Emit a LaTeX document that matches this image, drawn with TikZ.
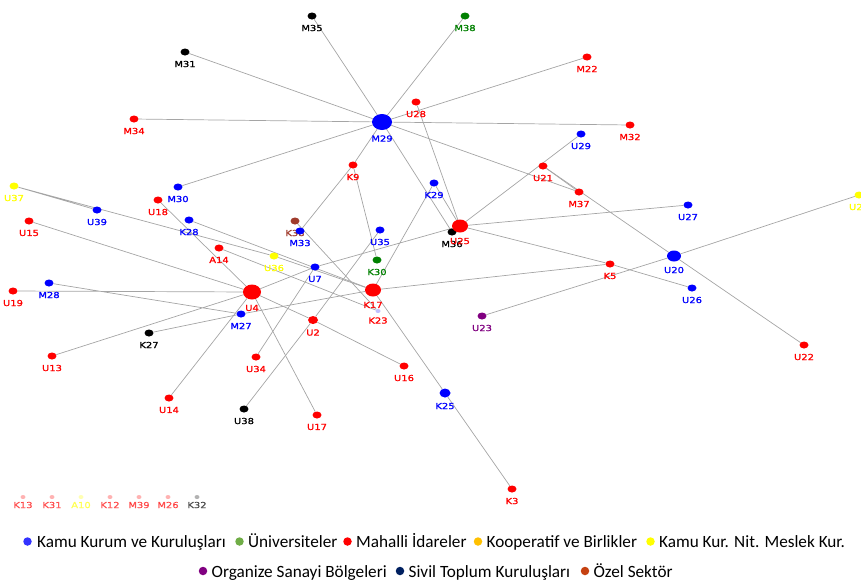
\documentclass[tikz,border=0pt]{standalone}
\usepackage{fontspec}
\setmainfont{Carlito}
\newfontfamily\lblfamily[FakeStretch=1.2,FakeBold=1.2]{DejaVu Sans}
\newcommand{\lblfont}{\lblfamily\fontsize{8.3}{9}\selectfont}
\usetikzlibrary{shapes.geometric,positioning}
\definecolor{nred}{RGB}{255,0,0}
\definecolor{nblue}{RGB}{0,0,255}
\definecolor{ngreen}{RGB}{0,128,0}
\definecolor{nyellow}{RGB}{255,255,0}
\definecolor{nbrown}{RGB}{160,60,45}
\definecolor{npurple}{RGB}{128,0,128}
\definecolor{edgegray}{RGB}{165,165,165}
\definecolor{lgblue}{RGB}{51,51,255}
\definecolor{lggreen}{RGB}{112,173,71}
\definecolor{lgorange}{RGB}{255,192,0}
\definecolor{lgnavy}{RGB}{0,32,96}
\definecolor{lgrust}{RGB}{197,65,17}
\pgfdeclarelayer{bg}
\pgfsetlayers{bg,main}

\begin{document}
\begin{tikzpicture}[x=1pt,y=-1pt,
    every label/.style={font=\lblfont,inner sep=0pt},
    label distance=5pt,
    dot/.style={ellipse,minimum width=9pt,minimum height=7pt,inner sep=0pt},
    rnode/.style={dot,fill=nred,label={[text=nred]below:#1}},
    bnode/.style={dot,fill=nblue,label={[text=nblue]below:#1}},
    gnode/.style={dot,fill=ngreen,label={[text=ngreen]below:#1}},
    ynode/.style={dot,fill=nyellow,label={[text=nyellow]below:#1}},
    knode/.style={dot,fill=black,label={[text=black]below:#1}},
    fnode/.style 2 args={dot,minimum width=5pt,minimum height=4pt,fill=#2,opacity=.3,
      label={[text=#2,text opacity=.6,label distance=2.5pt]below:#1}},
    link/.style={draw=edgegray,line width=0.7pt},
    lgdot/.style={circle,minimum size=8.5pt,inner sep=0pt},
    lgtext/.style={font=\fontsize{17.2}{19}\selectfont,inner sep=0pt,anchor=west,
      text height=12pt,text depth=0pt}]
  \useasboundingbox (0,0) rectangle (861,584);

  % nodes
  \node[knode=M35] (m35) at (312,16) {};
  \node[gnode=M38] (m38) at (465,16) {};
  \node[knode=M31] (m31) at (185,52) {};
  \node[rnode=M22] (m22) at (587,57) {};
  \node[rnode=M34] (m34) at (134,119) {};
  \node[rnode=U28] (u28) at (416,102) {};
  \node[bnode=M29,minimum width=20pt,minimum height=16pt] (m29) at (382,122) {};
  \node[rnode=M32] (m32) at (630,125) {};
  \node[bnode=U29] (u29) at (581,134) {};
  \node[rnode=K9] (k9) at (353,165) {};
  \node[rnode=U21] (u21) at (543,166) {};
  \node[rnode=M37] (m37) at (579,192) {};
  \node[ynode=U37] (u37) at (14,186) {};
  \node[bnode=M30] (m30) at (178,187) {};
  \node[bnode=K29] (k29) at (434,183) {};
  \node[ynode=U24] (u24) at (859,195) {};
  \node[rnode=U18] (u18) at (158,200) {};
  \node[bnode=U39] (u39) at (97,210) {};
  \node[bnode=U27] (u27) at (688,205) {};
  \node[rnode=U15] (u15) at (29,221) {};
  \node[bnode=K28] (k28) at (189,220) {};
  \node[dot,fill=nbrown,label={[text=nbrown]below:K38}] (k38) at (295,221) {};
  \node[bnode=M33] (m33) at (300,231) {};
  \node[knode=M36,label distance=3pt] (m36) at (452,232) {};
  \node[rnode=U25,minimum width=16pt,minimum height=13pt] (u25) at (460,226) {};
  \node[bnode=U35] (u35) at (380,230) {};
  \node[rnode=A14] (a14) at (219,248) {};
  \node[ynode=U36] (u36) at (274,256) {};
  \node[gnode=K30] (k30) at (377,260) {};
  \node[bnode=U20,minimum width=14pt,minimum height=11pt] (u20) at (674,256) {};
  \node[bnode=U7] (u7) at (315,267) {};
  \node[rnode=K5] (k5) at (610,264) {};
  \node[bnode=M28] (m28) at (49,283) {};
  \node[bnode=U26] (u26) at (692,288) {};
  \node[rnode=U19] (u19) at (13,291) {};
  \node[rnode=U4,minimum width=18pt,minimum height=15pt] (u4) at (252,292) {};
  \node[dot,fill=blue!25,minimum width=5pt,minimum height=4pt,label={[text=nred,label distance=4pt]below:K23}] (k23) at (378,311) {};
  \node[rnode=K17,minimum width=16pt,minimum height=13pt] (k17) at (373,290) {};
  \node[bnode=M27] (m27) at (241,314) {};
  \node[rnode=U2,minimum width=10pt,minimum height=8pt] (u2) at (313,320) {};
  \node[dot,fill=npurple,label={[text=npurple]below:U23}] (u23) at (482,316) {};
  \node[knode=K27] (k27) at (149,333) {};
  \node[rnode=U22] (u22) at (804,345) {};
  \node[rnode=U13] (u13) at (52,356) {};
  \node[rnode=U34] (u34) at (256,357) {};
  \node[rnode=U16] (u16) at (404,366) {};
  \node[bnode=K25,minimum width=11pt,minimum height=9pt] (k25) at (445,393) {};
  \node[rnode=U14] (u14) at (169,398) {};
  \node[knode=U38] (u38) at (244,409) {};
  \node[rnode=U17] (u17) at (317,415) {};
  \node[rnode=K3] (k3) at (512,489) {};

  % isolated
  \node[fnode={K13}{nred}] (k13) at (23,497) {};
  \node[fnode={K31}{nred}] (k31) at (52,497) {};
  \node[fnode={A10}{nyellow}] (a10) at (81,497) {};
  \node[fnode={K12}{nred}] (k12) at (110,497) {};
  \node[fnode={M39}{nred}] (m39) at (139,497) {};
  \node[fnode={M26}{nred}] (m26) at (168,497) {};
  \node[fnode={K32}{black}] (k32) at (197,497) {};

  % links
  \begin{pgfonlayer}{bg}
    \path[link] (m29) -- (m35) (m29) -- (m38) (m29) -- (m31) (m29) -- (m22);
    \path[link] (m29) -- (m34) (m29) -- (m32) (m29) -- (m30) (m29) -- (m37);
    \path[link] (m29.center) -- (m36.center) (m29) -- (k9) (k9) -- (m33) (k9) -- (k30);
    \path[link] (u28) -- (u25.center) (u29) -- (u25) (u21) -- (m37);
    \path[link] (u21) -- (u20) (u20) -- (u22) (u25) -- (u27);
    \path[link] (u25) -- (k5) (k5) -- (u26) (k17) -- (k5);
    \path[link] (u23) -- (u20) (u20) -- (u24);
    \path[link] (k29) -- (k17) (k29) -- (u25) (u25) -- (u7) (u7) -- (u4);
    \path[link] (u37) -- (u39) (u37) -- (u36) (u36) -- (k17);
    \path[link] (u15) -- (u4) (u18) -- (u4) (k28) -- (k17);
    \path[link] (a14) -- (k23) (k38.center) -- (k23);
    \path[link] (u19) -- (u4) (m28) -- (m27) (u13) -- (u4);
    \path[link] (k27) -- (m27) (m27) -- (k17);
    \path[link] (u4) -- (u2) (u2) -- (u16) (u4) -- (u17) (u14) -- (u4);
    \path[link] (u34) -- (u7) (u38) -- (u2) (u2) -- (u35);
    \path[link] (k17) -- (k25) (k25) -- (k3);
  \end{pgfonlayer}

  % legend
  \node[lgdot,fill=lgblue] (lg1) at (27.5,541.5) {};
  \node[lgtext,right=5pt of lg1] (lgt1) {Kamu Kurum ve Kuruluşları};
  \node[lgdot,fill=lggreen] (lg2) at (239.5,541.5) {};
  \node[lgtext,right=4pt of lg2] (lgt2) {Üniversiteler};
  \node[lgdot,fill=nred] (lg3) at (347.5,541.5) {};
  \node[lgtext,right=4pt of lg3] (lgt3) {Mahalli İdareler};
  \node[lgdot,fill=lgorange] (lg4) at (478,541.5) {};
  \node[lgtext,right=4pt of lg4] (lgt4) {Kooperatif ve Birlikler};
  \node[lgdot,fill=nyellow] (lg5) at (650.5,541.5) {};
  \node[lgtext,right=4pt of lg5] (lgt5) {Kamu Kur. Nit. Meslek Kur.};
  \node[lgdot,fill=npurple] (lg6) at (203,571) {};
  \node[lgtext,right=4pt of lg6] (lgt6) {Organize Sanayi Bölgeleri};
  \node[lgdot,fill=lgnavy] (lg7) at (400,571) {};
  \node[lgtext,right=4pt of lg7] (lgt7) {Sivil Toplum Kuruluşları};
  \node[lgdot,fill=lgrust] (lg8) at (585,571) {};
  \node[lgtext,right=4pt of lg8] (lgt8) {Özel Sektör};
\end{tikzpicture}
\end{document}
